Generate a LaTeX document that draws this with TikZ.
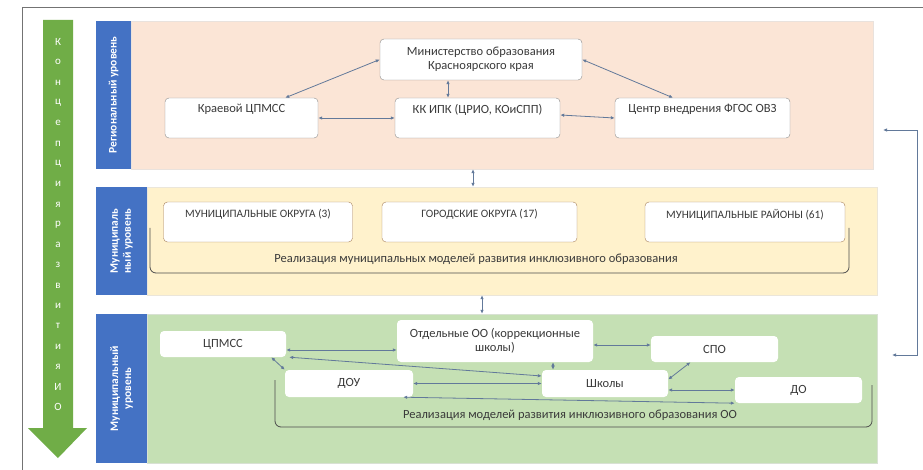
\documentclass[tikz,border=0pt]{standalone}
\usepackage{fontspec}
\setmainfont{Carlito}
\usetikzlibrary{positioning}
\usetikzlibrary{arrows.meta}
\definecolor{regColor}{HTML}{FBE5D6}
\definecolor{munColor}{HTML}{FFF2CC}
\definecolor{instColor}{HTML}{C5E0B4}
\definecolor{levelColor}{HTML}{4472C4}
\definecolor{arrowColor}{HTML}{70AD47}
\definecolor{linkColor}{HTML}{62799A}
\definecolor{boxBorder}{HTML}{8C8C8C}
\definecolor{textColor}{HTML}{3A3A3A}

\begin{document}
\begin{tikzpicture}[x=1pt,y=-1pt,
    panel/.style={rectangle, inner sep=0pt, draw=#1!80!black!40, fill=#1},
    level/.style={rectangle, fill=levelColor, text=white, align=center, inner sep=0pt,
      font=\fontsize{11.5}{13}\selectfont\bfseries, rotate=90},
    box/.style={rectangle, rounded corners=4pt, draw=boxBorder, fill=white, align=center,
      text=textColor, inner sep=1pt, font=\fontsize{12.5}{14.5}\selectfont},
    capbox/.style={box, draw=brown!60!gray, font=\fontsize{11.3}{13}\selectfont},
    oobox/.style={box, draw=none},
    link/.style={linkColor, line width=0.8pt, {Latex[length=4pt,width=3.5pt]}-{Latex[length=4pt,width=3.5pt]}},
    brace/.style={draw=black!70, line width=0.8pt, rounded corners=6pt},
    note/.style={text=textColor, font=\fontsize{12.5}{14}\selectfont},
    letter/.style={text=white, font=\fontsize{11}{12}\selectfont}]
  \useasboundingbox (0,0) rectangle (923,470);
  \fill[white] (0,0) rectangle (923,470);
  \draw[black!55, line width=1pt] (923,8) -- (22,8) -- (22,470);

  % big arrow on the left
  \fill[arrowColor] (43,20) -- (73,20) -- (73,428) -- (87,428) -- (58,458) -- (28,428) -- (43,428) -- cycle;
  \foreach \l [count=\i] in {К,о,н,ц,е,п,ц,и,я,р,а,з,в,и,т,и,я,И,О}
    \node[letter] (l\i) at (58,{42+(\i-1)*20.3}) {\l};

  % levels
  \node[panel=regColor, minimum width=742pt, minimum height=148pt] (reg) at (502,95) {};
  \node[level, minimum width=148pt, minimum height=35pt] (regl) at (113.5,95) {Региональный уровень};
  \node[panel=munColor, minimum width=730pt, minimum height=108pt] (mun) at (512,241) {};
  \node[level, minimum width=108pt, minimum height=51pt] (munl) at (121.5,241) {Муниципаль\\ный уровень};
  \node[panel=instColor, minimum width=730pt, minimum height=149pt] (inst) at (512,388.5) {};
  \node[level, minimum width=149pt, minimum height=51pt] (instl) at (121.5,388.5) {Муниципальный\\уровень};

  % regional
  \node[box, minimum width=202pt, minimum height=41pt] (mino) at (481,59.5) {Министерство образования\\Красноярского края};
  \node[box, minimum width=153pt, minimum height=40pt] (kraev) at (241.5,118) {Краевой ЦПМСС\\\strut};
  \node[box, minimum width=165pt, minimum height=40pt] (kkipk) at (477.5,118) {КК ИПК (ЦРИО, КОиСПП)\\\strut};
  \node[box, minimum width=175pt, minimum height=40pt] (centr) at (702.5,118) {Центр внедрения ФГОС ОВЗ\\\strut};
  \draw[link] (mino.west) -- ([xshift=-33pt]kraev.north east);
  \draw[link] ([xshift=-33pt]mino.south) -- ([xshift=-29.5pt]kkipk.north);
  \draw[link] (mino.east) -- ([xshift=-29.5pt]centr.north);
  \draw[link] (kraev.east) -- (kkipk.west);
  \draw[link] ([yshift=3pt]kkipk.east) -- (centr.west);

  % municipal
  \node[capbox, minimum width=189pt, minimum height=40pt] (okruga) at (258,222) {МУНИЦИПАЛЬНЫЕ ОКРУГА (3)\\\strut};
  \node[capbox, minimum width=195pt, minimum height=40pt] (gorod) at (479.5,222) {ГОРОДСКИЕ ОКРУГА (17)\\\strut};
  \node[capbox, minimum width=200pt, minimum height=40pt] (rayony) at (745,222) {МУНИЦИПАЛЬНЫЕ РАЙОНЫ (61)\\\strut};
  \draw[brace] (150,228) -- (150,273) -- (849,273) -- (849,228);
  \node[note] (munnote) at (476,259) {Реализация муниципальных моделей развития инклюзивного образования};

  % institutions
  \node[oobox, minimum width=126pt, minimum height=26pt] (cpmss) at (223,344) {ЦПМСС};
  \node[oobox, minimum width=196pt, minimum height=42pt] (otdoo) at (495,341) {Отдельные ОО (коррекционные\\школы)};
  \node[oobox, minimum width=127pt, minimum height=26pt] (spo) at (714.5,349) {СПО};
  \node[oobox, minimum width=128pt, minimum height=27pt] (dou) at (349,383.5) {ДОУ};
  \node[oobox, minimum width=126pt, minimum height=27pt] (shkoly) at (605,383.5) {Школы};
  \node[oobox, minimum width=127pt, minimum height=26pt] (do) at (798.5,390) {ДО};
  \draw[brace] (275,380) -- (275,427) -- (872,427) -- (872,385);
  \node[note] (instnote) at (570,415) {Реализация моделей развития инклюзивного образования ОО};

  \draw[link] ([yshift=-6pt]cpmss.east) -- ([yshift=-9pt]otdoo.west);
  \draw[link] ([xshift=3pt]cpmss.south east) -- ([yshift=7.5pt]shkoly.west);
  \draw[link] ([xshift=-15pt]cpmss.south east) -- (dou.north west);
  \draw[link] (dou.east) -- (shkoly.west);
  \draw[link] ([xshift=-10pt]dou.south east) -- (do.south west);
  \draw[link] ([xshift=58pt]otdoo.south) -- ([xshift=-52pt]shkoly.north);
  \draw[link] ([yshift=-4pt]otdoo.east) -- ([yshift=4pt]spo.west);
  \draw[link] ([yshift=4pt]shkoly.east) -- ([xshift=-24pt]spo.south);
  \draw[link] ([yshift=-6.5pt]shkoly.east) -- (do.west);

  % between levels
  \draw[link] ([xshift=-29pt]reg.south) -- ([xshift=-39pt]mun.north);
  \draw[link] ([xshift=-30pt]mun.south) -- ([xshift=-30pt]inst.north);
  \coordinate (rtop) at (883,130);
  \coordinate (rbot) at (892,355);
  \draw[link] (rtop) -- (917,130) -- (917,355) -- (rbot);
\end{tikzpicture}
\end{document}
